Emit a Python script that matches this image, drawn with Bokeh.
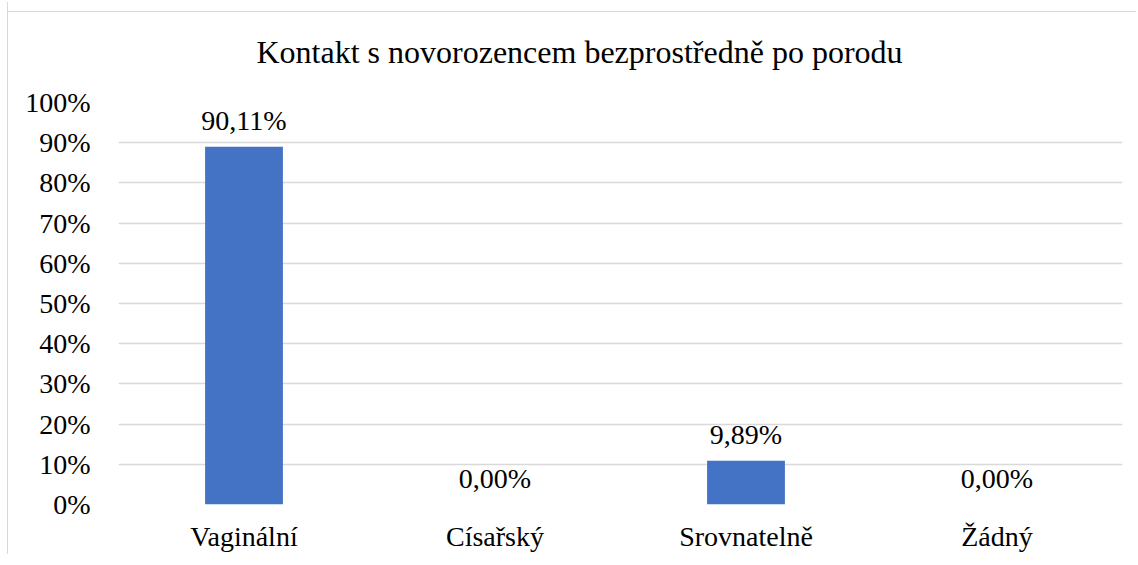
from bokeh.plotting import figure
from bokeh.models import Range1d, FixedTicker, ColumnDataSource
from bokeh.core.properties import value
from bokeh.embed import file_html
from bokeh.resources import INLINE

# ---- data ----
categories = ["Vaginální", "Císařský", "Srovnatelně", "Žádný"]
bar_values = [89.0, 0.0, 10.9, 0.0]          # bar heights as drawn (%)
bar_labels = ["90,11%", "0,00%", "9,89%", "0,00%"]
y_ticks = [0, 10, 20, 30, 40, 50, 60, 70, 80, 90, 100]
y_tick_labels = [f"{t}%" for t in y_ticks]
title_text = "Kontakt s novorozencem bezprostředně po porodu"

FONT = "'Liberation Serif'"
positions = [i + 0.5 for i in range(len(categories))]

src = ColumnDataSource(dict(x=positions, top=bar_values, label=bar_labels))

p = figure(
    frame_width=1004, frame_height=402,
    x_range=Range1d(0, len(categories)), y_range=Range1d(0, 100),
    output_backend="svg", toolbar_location=None,
    min_border_left=110, min_border_right=14, min_border_top=60, min_border_bottom=40,
)
# chart-area frame (top and left edges visible in the reference)
p.styles = {
    "border-left": "1px solid #d9d9d9",
    "margin-left": "7px",
    "margin-top": "2px",
    "background": "linear-gradient(#d9d9d9, #d9d9d9) 0 9px / 100% 1px no-repeat, #ffffff",
}

p.title.text = title_text
p.title.text_font = FONT
p.title.text_font_size = "32px"
p.title.text_font_style = "normal"
p.title.text_color = "#000000"
p.title.align = "left"
p.title.vertical_align = "top"
p.title.offset = 138
p.title.standoff = 62

p.outline_line_color = None
p.background_fill_color = "white"
p.border_fill_color = None

p.vbar(x="x", top="top", width=0.31, source=src, fill_color="#4472C4", line_color=None)
p.text(x="x", y="top", text="label", source=src, text_font=value(FONT),
       text_font_size="28px", text_align="center", text_baseline="alphabetic",
       y_offset=-26, text_color="#000000")

# y axis
p.yaxis.ticker = FixedTicker(ticks=y_ticks)
p.yaxis.major_label_overrides = {t: l for t, l in zip(y_ticks, y_tick_labels)}
p.yaxis.axis_line_color = None
p.yaxis.major_tick_line_color = None
p.yaxis.minor_tick_line_color = None
p.yaxis.major_tick_out = 0
p.yaxis.major_tick_in = 0
p.yaxis.major_label_standoff = 28
p.yaxis.major_label_text_font = FONT
p.yaxis.major_label_text_font_size = "28px"
p.yaxis.major_label_text_color = "#000000"

# x axis
p.xaxis.ticker = FixedTicker(ticks=positions)
p.xaxis.major_label_overrides = {pos: c for pos, c in zip(positions, categories)}
p.xaxis.axis_line_color = None
p.xaxis.major_tick_line_color = None
p.xaxis.minor_tick_line_color = None
p.xaxis.major_tick_out = 0
p.xaxis.major_tick_in = 0
p.xaxis.major_label_standoff = 16
p.xaxis.major_label_text_font = FONT
p.xaxis.major_label_text_font_size = "28px"
p.xaxis.major_label_text_color = "#000000"

p.xgrid.grid_line_color = None
p.ygrid.ticker = FixedTicker(ticks=y_ticks)
p.ygrid.grid_line_color = "#d9d9d9"
p.ygrid.grid_line_width = 1.5

open("out.html", "w").write(file_html(p, INLINE))
